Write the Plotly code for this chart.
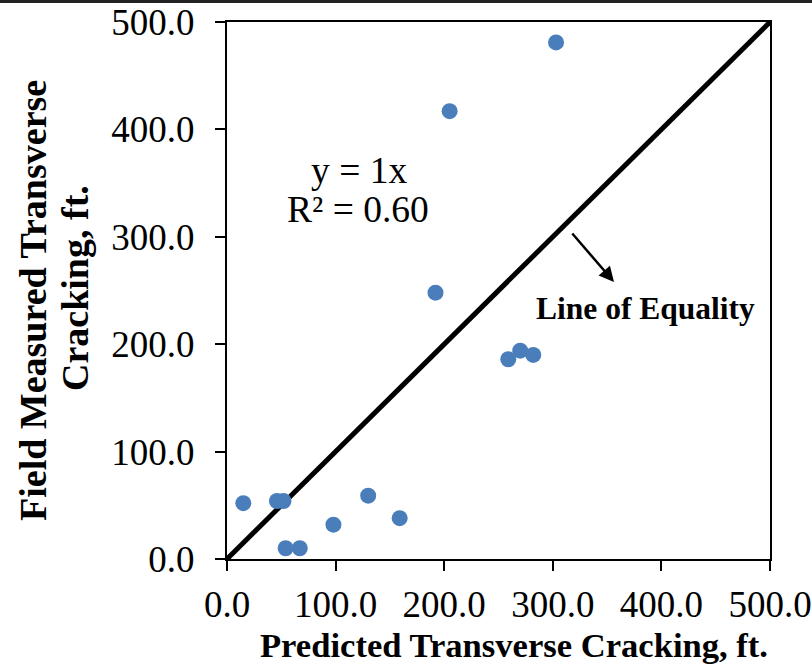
import plotly.graph_objects as go

# Data
predicted = [15, 46, 52, 54, 67, 98, 130, 159, 192, 205, 259, 270, 282, 303]
measured = [52, 54, 54, 10, 10, 32, 59, 38, 248, 417, 186, 194, 190, 481]
equality_x = [0, 500]
equality_y = [0, 500]
tick_vals = [0, 100, 200, 300, 400, 500]
tick_text = ["0.0", "100.0", "200.0", "300.0", "400.0", "500.0"]

FONT = "Liberation Serif, Times New Roman, serif"

fig = go.Figure()
fig.add_trace(go.Scatter(x=equality_x, y=equality_y, mode="lines",
                         line=dict(color="black", width=5), showlegend=False,
                         hoverinfo="skip"))
fig.add_trace(go.Scatter(x=predicted, y=measured, mode="markers",
                         marker=dict(color="#4A7EBB", size=16), showlegend=False))

L, R, T, B = 227, 42, 22, 109
W, H = 812, 668
pw, ph = W - L - R, H - T - B

def px2paper_x(px):
    return (px - L) / pw

def px2paper_y(py):
    return (H - B - py) / ph

fig.update_layout(
    width=W, height=H,
    margin=dict(l=L, r=R, t=T, b=B, autoexpand=False),
    plot_bgcolor="white", paper_bgcolor="white",
    font=dict(family=FONT, color="black", size=37),
    xaxis=dict(range=[0, 500], tickvals=tick_vals, ticktext=tick_text,
               showgrid=False, zeroline=False, showline=True, linecolor="black",
               linewidth=2, mirror=True, ticks="outside", ticklen=10, tickwidth=2,
               tickcolor="black", tickfont=dict(size=37, family=FONT),
               ticklabelstandoff=2, automargin=False),
    yaxis=dict(range=[0, 500], tickvals=tick_vals, ticktext=tick_text,
               showgrid=False, zeroline=False, showline=True, linecolor="black",
               linewidth=2, mirror=True, ticks="outside", ticklen=10, tickwidth=2,
               tickcolor="black", tickfont=dict(size=37, family=FONT),
               ticklabelstandoff=13, automargin=False),
    annotations=[
        dict(text="<b>Predicted Transverse Cracking, ft.</b>", xref="paper", yref="paper",
             x=px2paper_x(514), y=px2paper_y(645), showarrow=False,
             font=dict(size=34.6, family=FONT), xanchor="center", yanchor="middle"),
        dict(text="<b>Field Measured Transverse</b>", xref="paper", yref="paper",
             x=px2paper_x(33), y=px2paper_y(301), showarrow=False, textangle=-90,
             font=dict(size=38, family=FONT), xanchor="center", yanchor="middle"),
        dict(text="<b>Cracking, ft.</b>", xref="paper", yref="paper",
             x=px2paper_x(75), y=px2paper_y(288), showarrow=False, textangle=-90,
             font=dict(size=38, family=FONT), xanchor="center", yanchor="middle"),
        dict(text="y = 1x", xref="paper", yref="paper",
             x=px2paper_x(359), y=px2paper_y(170), showarrow=False,
             font=dict(size=37.5, family=FONT), xanchor="center", yanchor="middle"),
        dict(text="R² = 0.60", xref="paper", yref="paper",
             x=px2paper_x(358), y=px2paper_y(209), showarrow=False,
             font=dict(size=37.5, family=FONT), xanchor="center", yanchor="middle"),
        dict(text="<b>Line of Equality</b>", xref="paper", yref="paper",
             x=px2paper_x(645), y=px2paper_y(309), showarrow=False,
             font=dict(size=31.5, family=FONT), xanchor="center", yanchor="middle"),
        dict(text="", xref="paper", yref="paper",
             x=px2paper_x(614), y=px2paper_y(282),
             ax=-43, ay=-50,
             showarrow=True, arrowhead=2, arrowsize=1.2, arrowwidth=2.5,
             arrowcolor="black"),
    ],
    shapes=[
        dict(type="line", xref="paper", yref="paper",
             x0=px2paper_x(0), x1=px2paper_x(W), y0=px2paper_y(1.5), y1=px2paper_y(1.5),
             line=dict(color="#222222", width=3)),
    ],
)

fig.write_html(
    "out.html",
    config={"displayModeBar": False},
    post_script="document.body.style.margin='0';document.body.style.overflow='hidden';",
)
